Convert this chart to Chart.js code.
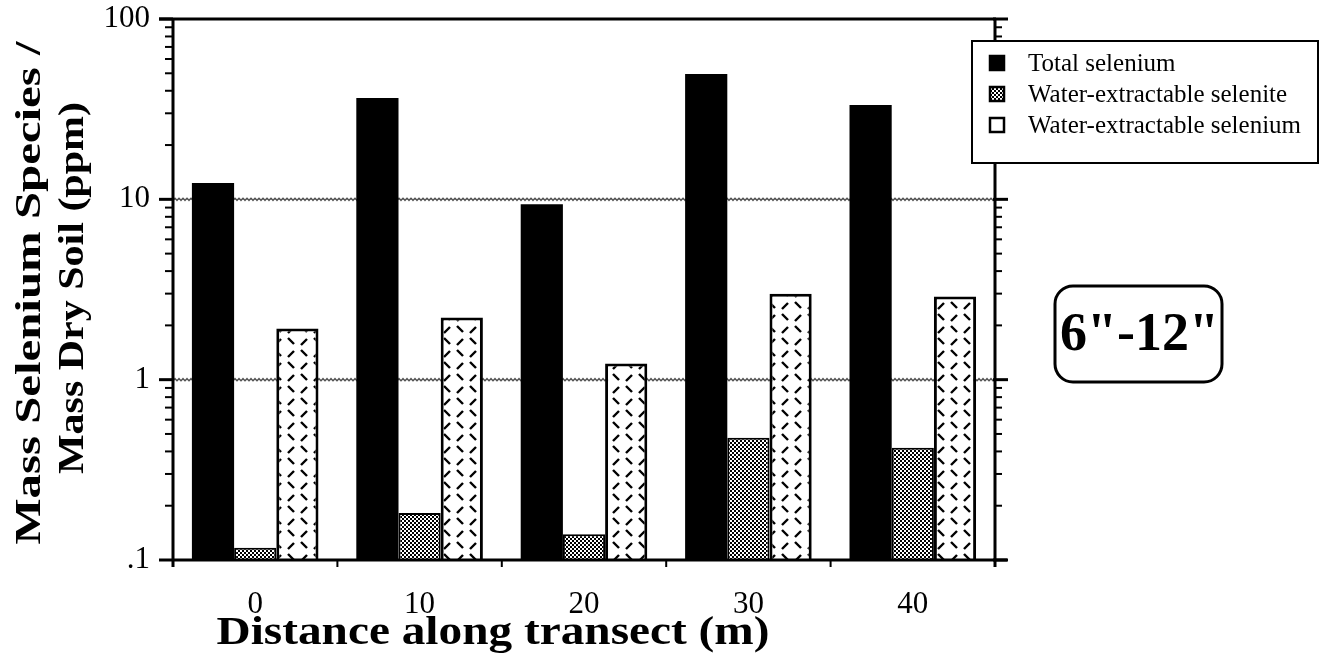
<!DOCTYPE html>
<html><head><meta charset="utf-8">
<script src="https://cdn.jsdelivr.net/npm/chart.js@4.4.1/dist/chart.umd.min.js"></script>
<style>html,body{margin:0;padding:0;background:#fff}#wrap{width:1329px;height:665px;position:relative}</style>
</head><body><div id="wrap"><canvas id="c" width="1329" height="665"></canvas></div>
<script>
const categories = ['0', '10', '20', '30', '40'];
const totalSelenium = [12.3, 36.5, 9.4, 49.5, 33.3];
const selenite = [0.117, 0.182, 0.139, 0.476, 0.419];
const waterSelenium = [1.92, 2.21, 1.23, 3.0, 2.89];
const yTickValues = [0.1, 1, 10, 100];
const yTickLabels = ['.1', '1', '10', '100'];
const gridValues = [1, 10];
const seriesNames = ['Total selenium', 'Water-extractable selenite', 'Water-extractable selenium'];
const yTitleLines = ['Mass Selenium Species /', 'Mass Dry Soil (ppm)'];
const xTitle = 'Distance along transect (m)';
const depthLabel = '6"-12"';

const SERIF = '"Liberation Serif", "Times New Roman", serif';

function dotPattern() {
  const c = document.createElement('canvas'); c.width = 4; c.height = 4;
  const g = c.getContext('2d');
  g.fillStyle = '#fff'; g.fillRect(0, 0, 4, 4);
  g.fillStyle = '#000'; g.fillRect(0, 0, 2, 2); g.fillRect(2, 2, 2, 2);
  return document.createElement('canvas').getContext('2d').createPattern(c, 'repeat');
}
function dashPattern() {
  const c = document.createElement('canvas'); c.width = 26; c.height = 24;
  const g = c.getContext('2d');
  g.fillStyle = '#fff'; g.fillRect(0, 0, 26, 24);
  g.strokeStyle = '#000'; g.lineWidth = 2.4; g.lineCap = 'butt';
  const seg = (x1, y1, x2, y2) => { g.beginPath(); g.moveTo(x1, y1); g.lineTo(x2, y2); g.stroke(); };
  seg(2, 2, 8, 8);
  seg(15, 9, 21, 3);
  seg(2, 21, 8, 15);
  seg(15, 14, 21, 20);
  return document.createElement('canvas').getContext('2d').createPattern(c, 'repeat');
}
const dotPat = dotPattern();
const dashPat = dashPattern();

function fitText(ctx, text, x, y, font, width, align) {
  ctx.save();
  ctx.font = font;
  const w = ctx.measureText(text).width;
  const sx = width / w;
  ctx.translate(x, y);
  ctx.scale(sx, 1);
  ctx.textAlign = align || 'center';
  ctx.textBaseline = 'middle';
  ctx.fillText(text, 0, 0);
  ctx.restore();
}

const decor = {
  id: 'decor',
  beforeDatasetsDraw(chart) {
    const { ctx, chartArea: a, scales: { y } } = chart;
    ctx.save();
    ctx.strokeStyle = '#555'; ctx.lineWidth = 1.4;
    gridValues.forEach(v => {
      const py = y.getPixelForValue(v);
      ctx.beginPath();
      for (let px = a.left; px <= a.right; px += 1) {
        const yy = py + Math.sin(px * Math.PI / 2) * 1.1;
        if (px === a.left) ctx.moveTo(px, yy); else ctx.lineTo(px, yy);
      }
      ctx.stroke();
    });
    ctx.restore();
  },
  afterDatasetsDraw(chart) {
    const { ctx, chartArea: a, scales: { x, y } } = chart;
    ctx.save();
    ctx.strokeStyle = '#000'; ctx.fillStyle = '#000';
    // frame
    ctx.lineWidth = 3;
    ctx.beginPath(); ctx.moveTo(159, a.top); ctx.lineTo(a.right + 1, a.top); ctx.stroke();
    ctx.beginPath(); ctx.moveTo(a.left, a.top - 1); ctx.lineTo(a.left, a.bottom + 7); ctx.stroke();
    ctx.beginPath(); ctx.moveTo(a.right, a.top - 1); ctx.lineTo(a.right, a.bottom + 7); ctx.stroke();
    ctx.beginPath(); ctx.moveTo(a.left - 1, a.bottom); ctx.lineTo(a.right + 12, a.bottom); ctx.stroke();
    // x ticks at category boundaries
    ctx.lineWidth = 2;
    const n = categories.length, cw = (a.right - a.left) / n;
    for (let i = 1; i < n; i++) {
      const px = a.left + i * cw;
      ctx.beginPath(); ctx.moveTo(px, a.bottom); ctx.lineTo(px, a.bottom + 7); ctx.stroke();
    }
    // y ticks
    for (let e = -1; e <= 2; e++) {
      const base = Math.pow(10, e);
      const py = y.getPixelForValue(base);
      ctx.lineWidth = 3;
      ctx.beginPath(); ctx.moveTo(a.left - 14, py); ctx.lineTo(a.left, py); ctx.stroke();
      ctx.beginPath(); ctx.moveTo(a.right - 2, py); ctx.lineTo(a.right + 13, py); ctx.stroke();
      if (e < 2) {
        ctx.lineWidth = 2;
        for (let m = 2; m <= 9; m++) {
          const pm = y.getPixelForValue(base * m);
          ctx.beginPath(); ctx.moveTo(a.left - 8, pm); ctx.lineTo(a.left, pm); ctx.stroke();
          ctx.beginPath(); ctx.moveTo(a.right, pm); ctx.lineTo(a.right + 7, pm); ctx.stroke();
        }
      }
    }
    // y title
    [[31, 293, 503], [74, 288, 372]].forEach((p, i) => {
      ctx.save();
      ctx.translate(p[0], p[1]);
      ctx.rotate(-Math.PI / 2);
      fitText(ctx, yTitleLines[i], 0, 0, 'bold 35px ' + SERIF, p[2]);
      ctx.restore();
    });
    // x title
    fitText(ctx, xTitle, 493, 634, 'bold 39px ' + SERIF, 553);

    // legend
    const L = { x: 972, y: 41, w: 346, h: 122 };
    ctx.fillStyle = '#fff';
    ctx.fillRect(L.x, L.y, L.w, L.h);
    ctx.lineWidth = 2; ctx.strokeStyle = '#000';
    ctx.strokeRect(L.x, L.y, L.w, L.h);
    const rows = [63, 94, 125];
    const fills = ['#000', dotPat, '#fff'];
    chart.data.datasets.forEach((ds, i) => {
      const cy = rows[i];
      ctx.fillStyle = fills[i];
      ctx.fillRect(989, cy - 8, 16, 16);
      ctx.lineWidth = 2.5; ctx.strokeStyle = '#000';
      ctx.strokeRect(990, cy - 7, 14, 14);
      ctx.fillStyle = '#000';
      ctx.font = '25px ' + SERIF;
      ctx.textAlign = 'left'; ctx.textBaseline = 'middle';
      ctx.fillText(ds.label, 1028, cy + 1);
    });

    // depth label box
    const B = { x: 1055, y: 286, w: 167, h: 96, r: 18 };
    ctx.save();
    ctx.beginPath();
    ctx.roundRect(B.x, B.y, B.w, B.h, B.r);
    ctx.clip();
    ctx.fillStyle = '#000';
    ctx.font = 'bold 54px ' + SERIF;
    ctx.textAlign = 'left'; ctx.textBaseline = 'middle';
    ctx.fillText(depthLabel, 1060, 336);
    ctx.restore();
    ctx.lineWidth = 3;
    ctx.beginPath(); ctx.roundRect(B.x, B.y, B.w, B.h, B.r); ctx.stroke();
    ctx.restore();
  }
};

new Chart(document.getElementById('c').getContext('2d'), {
  type: 'bar',
  data: {
    labels: categories,
    datasets: [
      { label: seriesNames[0], data: totalSelenium, backgroundColor: '#000', borderColor: '#000', borderWidth: 0 },
      { label: seriesNames[1], data: selenite, backgroundColor: dotPat, borderColor: '#000', borderWidth: 2 },
      { label: seriesNames[2], data: waterSelenium, backgroundColor: dashPat, borderColor: '#000', borderWidth: 3 }
    ]
  },
  options: {
    responsive: false,
    animation: false,
    devicePixelRatio: 1,
    layout: { padding: { top: 19, right: 334, left: 0, bottom: 0 } },
    datasets: { bar: { categoryPercentage: 0.77, barPercentage: 1.0 } },
    plugins: { legend: { display: false }, tooltip: { enabled: false }, title: { display: false } },
    scales: {
      x: {
        grid: { display: false, drawTicks: false },
        border: { display: false },
        ticks: { color: '#000', font: { family: SERIF, size: 31 }, padding: 26, maxRotation: 0 },
        afterFit(s) { s.height = 105; s.paddingLeft = 0; s.paddingRight = 0; }
      },
      y: {
        type: 'logarithmic', min: 0.1, max: 100,
        grid: { display: false, drawTicks: false },
        border: { display: false },
        afterBuildTicks(s) { s.ticks = yTickValues.map(v => ({ value: v })); },
        ticks: {
          color: '#000', font: { family: SERIF, size: 31 }, padding: 23,
          callback(v) { const i = yTickValues.indexOf(v); return i >= 0 ? yTickLabels[i] : ''; }
        },
        afterFit(s) { s.width = 173; s.paddingTop = 0; s.paddingBottom = 0; }
      }
    }
  },
  plugins: [decor]
});
</script>
</body></html>
